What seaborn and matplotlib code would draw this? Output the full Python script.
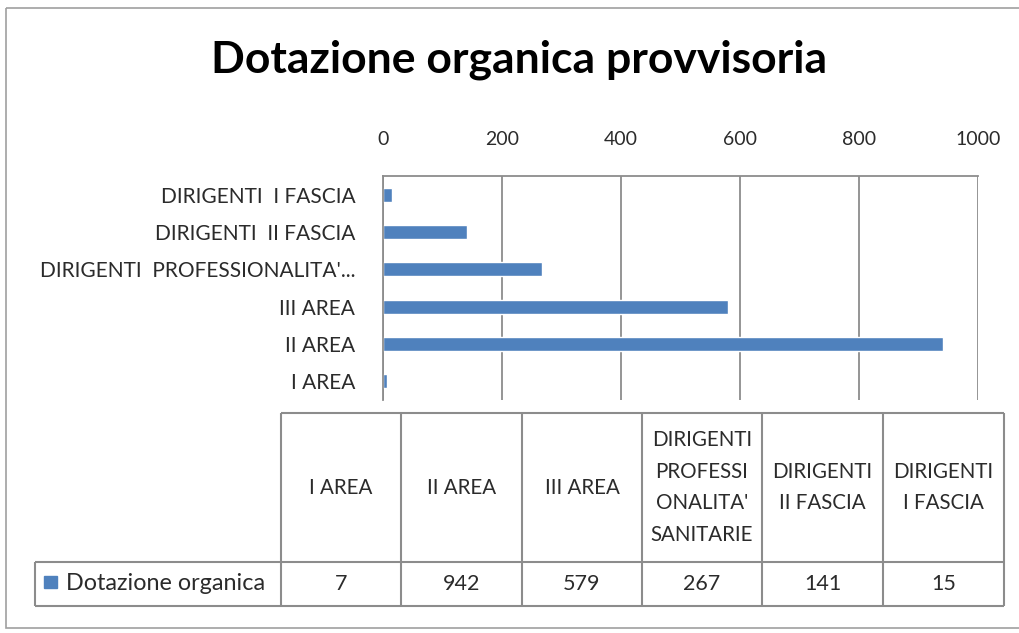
import matplotlib
matplotlib.use("Agg")
import matplotlib.pyplot as plt
import seaborn as sns
import pandas as pd
from matplotlib.patches import Rectangle

# data, in table order
categories = ["I AREA", "II AREA", "III AREA",
              "DIRIGENTI PROFESSIONALITA' SANITARIE",
              "DIRIGENTI II FASCIA", "DIRIGENTI I FASCIA"]
values = [7, 942, 579, 267, 141, 15]
axis_labels = ["I AREA", "II AREA", "III AREA",
               "DIRIGENTI  PROFESSIONALITA'...",
               "DIRIGENTI  II FASCIA", "DIRIGENTI  I FASCIA"]
header_labels = ["I AREA", "II AREA", "III AREA",
                 "DIRIGENTI\nPROFESSI\nONALITA'\nSANITARIE",
                 "DIRIGENTI\nII FASCIA", "DIRIGENTI\nI FASCIA"]
xticks = [0, 200, 400, 600, 800, 1000]
series_name = "Dotazione organica"
title = "Dotazione organica provvisoria"

W, H = 1019, 633
BLUE = "#4F81BD"
GRID = "#8c8c8c"
TXT = "#2b2b2b"

sns.set_style("white")
plt.rcParams["font.family"] = ["Lato", "DejaVu Sans"]

fig = plt.figure(figsize=(W / 100, H / 100), dpi=100)
fig.patch.set_facecolor("white")


def box(x0, y0, x1, y1):
    # pixel box (top-left origin) -> figure fraction
    return [x0 / W, 1 - y1 / H, (x1 - x0) / W, (y1 - y0) / H]


# overlay axes in pixel coords for frame and data table
tab = fig.add_axes([0, 0, 1, 1])
tab.set_xlim(0, W)
tab.set_ylim(H, 0)
tab.axis("off")
tab.add_patch(Rectangle((6, 8), 1030, 620, fill=False, ec="#a0a0a0", lw=1.2))

tab.text(519, 60, title, ha="center", va="center", fontsize=32,
         fontweight="bold", color="black")

# bar chart
ax = fig.add_axes(box(383, 176, 978, 400))
df = pd.DataFrame({"cat": categories, "val": values})
order = categories[::-1]
sns.barplot(data=df, x="val", y="cat", order=order, orient="h",
            color=BLUE, width=0.37, saturation=1, ax=ax)
ax.set_xlim(0, 1000)
ax.set_xticks(xticks)
ax.xaxis.tick_top()
ax.tick_params(axis="x", length=0, pad=20, labelsize=14, labelcolor=TXT)
ax.tick_params(axis="y", length=0, pad=20, labelsize=15, labelcolor=TXT)
ax.set_yticks(range(len(order)))
ax.set_yticklabels(axis_labels[::-1])
ax.set_xlabel("")
ax.set_ylabel("")
ax.grid(axis="x", color=GRID, lw=1.3)
ax.set_axisbelow(True)
for side in ["right", "bottom"]:
    ax.spines[side].set_visible(False)
for side in ["top", "left"]:
    ax.spines[side].set_color(GRID)
    ax.spines[side].set_linewidth(1.3)

# data table
col_edges = [281, 401, 522, 642, 762, 883, 1004]
top, mid, bot = 413, 562, 606
leg_left = 35
lc = "#8c8c8c"
tab.hlines(top, col_edges[0], col_edges[-1], color=lc, lw=1.5)
tab.hlines([mid, bot], leg_left, col_edges[-1], color=lc, lw=1.5)
tab.vlines(col_edges, top, bot, color=lc, lw=1.5)
tab.vlines(leg_left, mid, bot, color=lc, lw=1.5)
for i, (hdr, v) in enumerate(zip(header_labels, values)):
    xc = (col_edges[i] + col_edges[i + 1]) / 2
    tab.text(xc, (top + mid) / 2, hdr, ha="center", va="center",
             fontsize=14.8, color=TXT, linespacing=1.72)
    tab.text(xc, (mid + bot) / 2, str(v), ha="center", va="center",
             fontsize=15.5, color=TXT)
tab.add_patch(Rectangle((44, 576), 13, 12, color=BLUE))
tab.text(66, (mid + bot) / 2, series_name, ha="left", va="center",
         fontsize=16.8, color=TXT)

fig.savefig("out.png", dpi=100)
